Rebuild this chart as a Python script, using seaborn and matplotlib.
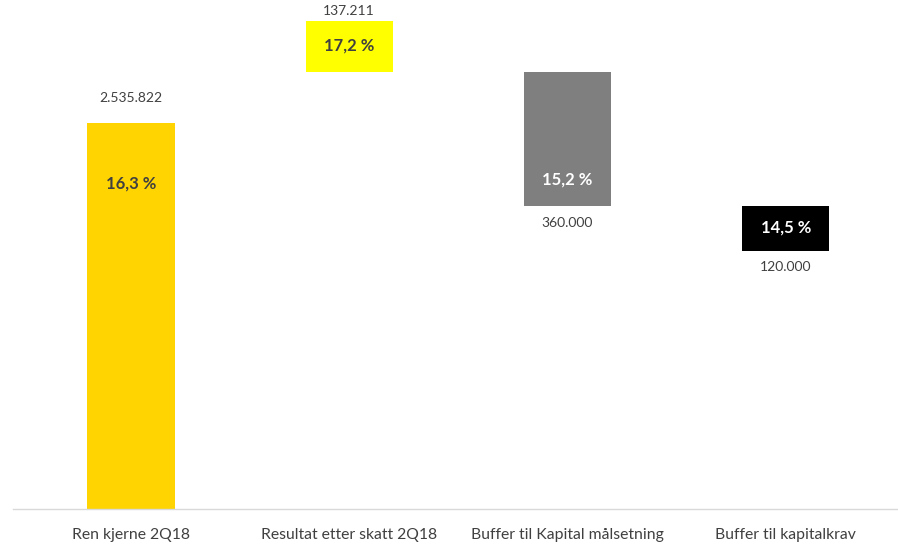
import matplotlib
matplotlib.use("Agg")
import matplotlib.pyplot as plt
import seaborn as sns
import pandas as pd

# Waterfall steps for the capital bridge
categories = ["Ren kjerne 2Q18", "Resultat etter skatt 2Q18",
              "Buffer til Kapital målsetning", "Buffer til kapitalkrav"]
amounts = [2535822, 137211, 360000, 120000]
amount_labels = ["2.535.822", "137.211", "360.000", "120.000"]
ratio_labels = ["16,3 %", "17,2 %", "15,2 %", "14,5 %"]
bar_colors = ["#FFD400", "#FFFF00", "#7F7F7F", "#000000"]
ratio_colors = ["#404040", "#404040", "#FFFFFF", "#FFFFFF"]

# Floating bar bases: start, added result, then the two buffers stepping down
start, result, buf_target, buf_req = amounts
bases = [0,
         start + result,
         start + result - buf_target,
         start + result - buf_target - buf_req]
heights = [start, result, buf_target, buf_req]

sns.set_theme(style="white")
plt.rcParams["font.family"] = ["Lato", "DejaVu Sans"]

fig = plt.figure(figsize=(8.98, 5.45), dpi=100)
ax = fig.add_axes([13 / 898, 36 / 545, 885 / 898, 509 / 545])

for cat, b, h, c in zip(categories, bases, heights, bar_colors):
    df = pd.DataFrame({"kategori": [cat], "verdi": [h]})
    sns.barplot(data=df, x="kategori", y="verdi", order=categories,
                color=c, bottom=b, width=0.4, saturation=1,
                linewidth=0, ax=ax)

ax.set_ylim(1500000, 2866000)
ax.set_xlim(-0.54, 3.514)
ax.set_xlabel("")
ax.set_ylabel("")
ax.set_yticks([])
for s in ["top", "left", "right"]:
    ax.spines[s].set_visible(False)
ax.spines["bottom"].set_color("#D9D9D9")
ax.spines["bottom"].set_linewidth(1.0)
ax.tick_params(axis="x", length=0, pad=14, labelsize=11.3, labelcolor="#404040")

txt = dict(ha="center", va="center", textcoords="offset pixels")
val_kw = dict(fontsize=10, color="#404040", **txt)
pct_kw = dict(fontsize=12, fontweight="bold", **txt)

# Bar 1: value above, ratio inside near the top
top1 = bases[0] + heights[0]
ax.annotate(amount_labels[0], (0, top1), xytext=(0, 25), **val_kw)
ax.annotate(ratio_labels[0], (0, top1), xytext=(0, -60), color=ratio_colors[0], **pct_kw)

# Bar 2: value above, ratio centred
top2 = bases[1] + heights[1]
ax.annotate(amount_labels[1], (1, top2), xytext=(0, 10), **val_kw)
ax.annotate(ratio_labels[1], (1, bases[1] + heights[1] / 2), xytext=(0, 1),
            color=ratio_colors[1], **pct_kw)

# Bar 3: ratio near the bottom, value below
ax.annotate(ratio_labels[2], (2, bases[2]), xytext=(0, 27), color=ratio_colors[2], **pct_kw)
ax.annotate(amount_labels[2], (2, bases[2]), xytext=(0, -17), **val_kw)

# Bar 4: ratio centred, value below
ax.annotate(ratio_labels[3], (3, bases[3] + heights[3] / 2), xytext=(0, 1),
            color=ratio_colors[3], **pct_kw)
ax.annotate(amount_labels[3], (3, bases[3]), xytext=(0, -16), **val_kw)

fig.savefig("out.png", dpi=100, facecolor="white")
